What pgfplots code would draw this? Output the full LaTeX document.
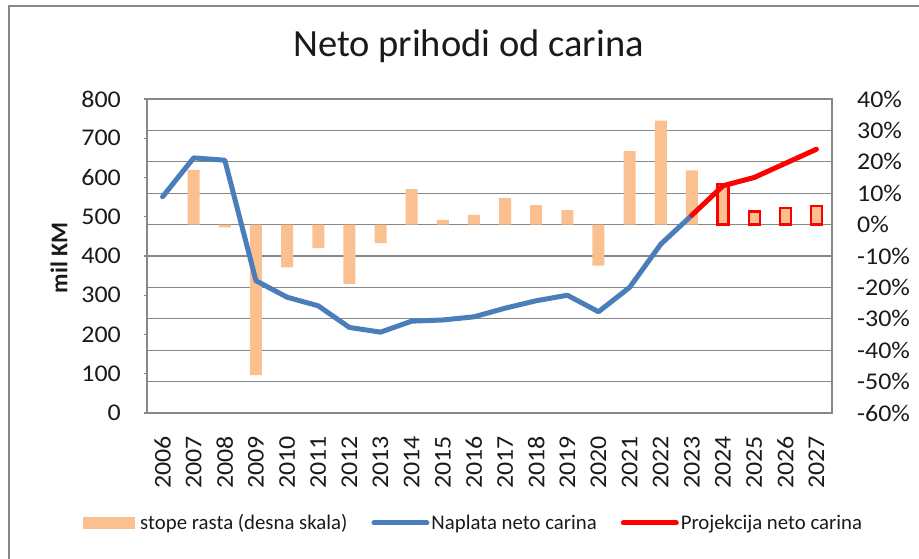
\documentclass[border=0pt]{standalone}
\usepackage{fontspec}
\setmainfont{Carlito}
\newfontfamily\tickfont[FakeStretch=1.08]{Carlito}
\usepackage{pgfplots}
\pgfplotsset{compat=1.18}

\definecolor{barfill}{HTML}{FAC090}
\definecolor{lineblue}{HTML}{4A7EBB}
\definecolor{gridgray}{HTML}{878787}
\definecolor{projred}{HTML}{FF0000}
\definecolor{txt}{HTML}{1A1A1A}

\begin{document}
\begin{tikzpicture}[x=1pt,y=1pt]
\useasboundingbox (0,0) rectangle (919,559);
% chart frame
\draw[gridgray, line width=1.3pt] (9,-5) -- (9,553) -- (930,553);
% title
\node[anchor=base, font=\fontsize{38.5}{44}\selectfont, text=txt] at (468.5,502) {Neto prihodi od carina};

% growth rates, right-hand scale
\begin{axis}[
  at={(147pt,146pt)}, anchor=south west,
  width=685pt, height=314pt, scale only axis,
  xmin=-0.5, xmax=21.5,
  ymin=-60, ymax=40,
  axis line style={gridgray, line width=1.3pt},
  ymajorgrids, grid style={gridgray, line width=1.3pt},
  xtick=\empty,
  ytick={-60,-50,...,40},
  yticklabels={-60\%,-50\%,-40\%,-30\%,-20\%,-10\%,0\%,10\%,20\%,30\%,40\%},
  ytick pos=right, yticklabel pos=right,
  major tick length=0pt,
  yticklabel style={font=\tickfont\fontsize{24}{28}\selectfont, text=txt, anchor=west, inner sep=0pt, xshift=25pt},
]
\addplot[ybar, bar width=12pt, bar shift=0pt, fill=barfill, draw=none] coordinates {
  (1,17.4) (2,-0.9) (3,-47.9) (4,-13.6) (5,-7.5) (6,-18.9) (7,-5.9) (8,11.3)
  (9,1.5) (10,3.1) (11,8.4) (12,6.2) (13,4.6) (14,-13.1) (15,23.4) (16,33.1) (17,17.3)
};
\addplot[ybar, bar width=11pt, bar shift=0pt, fill=barfill, draw=projred, line width=2.2pt] coordinates {
  (18,13.0) (19,4.2) (20,5.3) (21,5.8)
};
\end{axis}

% collections, left-hand scale
\begin{axis}[
  at={(147pt,146pt)}, anchor=south west,
  width=685pt, height=314pt, scale only axis,
  xmin=-0.5, xmax=21.5,
  ymin=0, ymax=800,
  axis line style={draw=none},
  xtick={0,...,21},
  xticklabels={2006,2007,2008,2009,2010,2011,2012,2013,2014,2015,2016,2017,2018,2019,2020,2021,2022,2023,2024,2025,2026,2027},
  xtick style={draw=none},
  xticklabel style={rotate=90, anchor=east, inner sep=0pt, font=\tickfont\fontsize{24}{28}\selectfont, text=txt, xshift=-20pt},
  ytick={0,100,...,800},
  yticklabels={0,100,200,300,400,500,600,700,800},
  ytick pos=left,
  tick align=outside, major tick length=3pt,
  ytick style={gridgray, line width=1.3pt},
  yticklabel style={font=\tickfont\fontsize{24}{28}\selectfont, text=txt, anchor=east, inner sep=0pt, xshift=-23pt},
  ylabel={mil KM},
  every axis y label/.style={at={(axis description cs:-0.1285,0.494)}, rotate=90, anchor=center, font=\bfseries\fontsize{24}{28}\selectfont, text=txt},
  legend columns=3,
  legend style={at={(axis description cs:-0.0934,-0.3503)}, anchor=west, draw=none, fill=none, inner sep=0pt,
    font=\fontsize{20.8}{24}\selectfont, text=txt,
    nodes={inner xsep=2pt, inner ysep=0pt},
    /tikz/every even column/.append style={column sep=22pt}},
  legend cell align=left,
]
\addlegendimage{draw=none, fill=barfill, mark=none,
  legend image code/.code={\fill[barfill, draw=none] (0pt,-6pt) rectangle (52pt,6pt); \path[draw=none] (0pt,0pt) -- (55pt,0pt);}}
\addlegendentry{stope rasta (desna skala)}
\addplot[lineblue, line width=5pt, line join=round, line cap=round,
  legend image code/.code={\draw[lineblue, line width=5pt, line cap=round] (2.5pt,0pt) -- (55.5pt,0pt);}] coordinates {
  (0,551) (1,650) (2,644) (3,337) (4,295) (5,273) (6,218) (7,206) (8,234)
  (9,237) (10,245) (11,267) (12,286) (13,300) (14,258) (15,320) (16,430) (17,504)
};
\addlegendentry{Naplata neto carina}
\addplot[projred, line width=5pt, line join=round, line cap=round,
  legend image code/.code={\draw[projred, line width=5pt, line cap=round] (2.5pt,0pt) -- (55.5pt,0pt);}] coordinates {
  (17,504) (18,579) (19,600) (20,636) (21,672)
};
\addlegendentry{Projekcija neto carina}
\end{axis}
\end{tikzpicture}
\end{document}
